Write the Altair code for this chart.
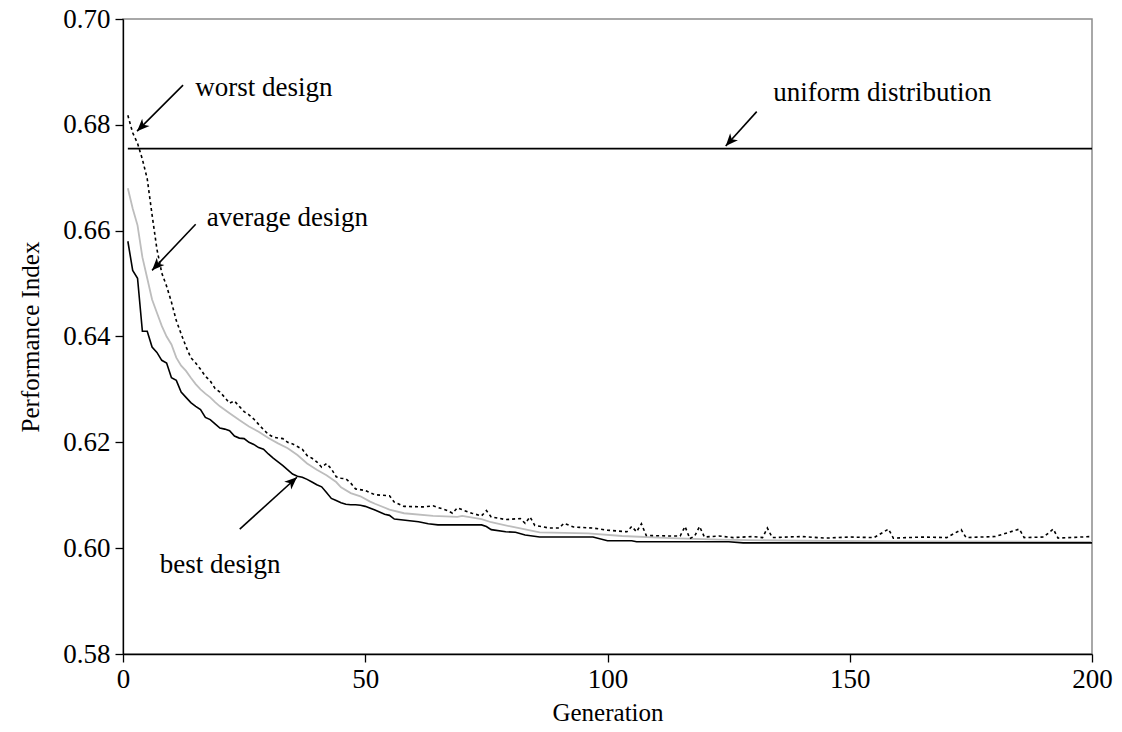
import math
import altair as alt
import pandas as pd

# --- series read per generation -------------------------------------------
best_gen = [1, 2, 3, 4, 5, 6, 7, 8, 9, 10, 11, 12, 13, 14, 15, 16, 17, 18, 19, 20,
            21, 22, 23, 24, 25, 26, 27, 28, 29, 30, 31, 32, 33, 34, 35, 36, 37, 38, 39, 40,
            41, 42, 43, 44, 45, 46, 47, 48, 49, 50, 52, 54, 55, 56, 61, 63, 65, 74, 75, 76,
            79, 81, 83, 86, 97, 100, 105, 106, 125, 128, 200]
best_val = [0.6580, 0.6525, 0.6510, 0.6410, 0.6410, 0.6380, 0.6370, 0.6355, 0.6350, 0.6322,
            0.6317, 0.6295, 0.6285, 0.6275, 0.6268, 0.6262, 0.6247, 0.6243, 0.6235, 0.6227,
            0.6225, 0.6222, 0.6212, 0.6208, 0.6207, 0.6200, 0.6196, 0.6190, 0.6187, 0.6178,
            0.6170, 0.6163, 0.6156, 0.6148, 0.6140, 0.6136, 0.6134, 0.6130, 0.6125, 0.6120,
            0.6116, 0.6105, 0.6094, 0.6090, 0.6086, 0.6083, 0.6082, 0.6082, 0.6081, 0.6079,
            0.6072, 0.6064, 0.6062, 0.6055, 0.6050, 0.6046, 0.6044, 0.6044, 0.6041, 0.6035,
            0.6031, 0.6030, 0.6025, 0.6021, 0.6021, 0.6014, 0.6014, 0.6012, 0.6012, 0.6010,
            0.6010]

avg_gen = [1, 2, 3, 4, 5, 6, 7, 8, 9, 10, 11, 12, 13, 14, 15, 16, 17, 18, 19, 20,
           22, 24, 26, 28, 30, 32, 34, 36, 38, 40, 42, 44, 45, 47, 49, 51, 52, 55, 58, 64,
           69, 70, 74, 76, 80, 86, 96, 103, 113, 123, 140, 160, 200]
avg_val = [0.6680, 0.6642, 0.6610, 0.6550, 0.6510, 0.6470, 0.6445, 0.6420, 0.6400, 0.6385,
           0.6360, 0.6345, 0.6335, 0.6322, 0.6310, 0.6300, 0.6292, 0.6285, 0.6276, 0.6268,
           0.6255, 0.6242, 0.6230, 0.6220, 0.6208, 0.6198, 0.6189, 0.6176, 0.6160, 0.6148,
           0.6138, 0.6125, 0.6115, 0.6104, 0.6098, 0.6088, 0.6084, 0.6073, 0.6066, 0.6061,
           0.6059, 0.6061, 0.6055, 0.6049, 0.6041, 0.6030, 0.6028, 0.6023, 0.6019, 0.6016,
           0.6014, 0.6013, 0.6012]

worst_gen = [1, 2, 3, 4, 5, 6, 7, 8, 9, 10, 11, 12, 13, 14, 15, 16, 17, 18, 19, 20,
             21, 22, 23, 24, 25, 26, 27, 28, 29, 30, 31, 32, 33, 34, 35, 36, 37, 38, 39, 40,
             41, 42, 43, 44, 45, 46, 47, 48, 50, 52, 55, 56, 58, 62, 64, 67, 68, 69, 72, 74,
             75, 76, 79, 82, 83, 84, 85, 88, 90, 91, 93, 97, 100, 104, 105, 106, 107, 108, 113, 115,
             116, 117, 118, 119, 120, 123, 126, 130, 132, 133, 134, 140, 145, 150, 155, 158, 159, 165, 170, 173,
             174, 180, 185, 186, 190, 192, 193, 200]
worst_val = [0.6818, 0.6785, 0.6765, 0.6735, 0.6698, 0.6630, 0.6565, 0.6520, 0.6495, 0.6465,
             0.6430, 0.6405, 0.6381, 0.6360, 0.6350, 0.6338, 0.6325, 0.6316, 0.6302, 0.6295,
             0.6285, 0.6274, 0.6278, 0.6268, 0.6258, 0.6252, 0.6244, 0.6234, 0.6224, 0.6215,
             0.6210, 0.6208, 0.6207, 0.6200, 0.6197, 0.6192, 0.6187, 0.6175, 0.6170, 0.6163,
             0.6153, 0.6160, 0.6150, 0.6135, 0.6132, 0.6131, 0.6123, 0.6112, 0.6109, 0.6101,
             0.6099, 0.6087, 0.6079, 0.6078, 0.6080, 0.6071, 0.6066, 0.6076, 0.6066, 0.6061,
             0.6071, 0.6059, 0.6054, 0.6056, 0.6047, 0.6059, 0.6043, 0.6038, 0.6038, 0.6047,
             0.6040, 0.6038, 0.6034, 0.6031, 0.6041, 0.6031, 0.6046, 0.6024, 0.6023, 0.6023,
             0.6041, 0.6018, 0.6023, 0.6041, 0.6021, 0.6023, 0.6020, 0.6022, 0.6020, 0.6038,
             0.6020, 0.6022, 0.6019, 0.6021, 0.6020, 0.6036, 0.6019, 0.6021, 0.6020, 0.6035,
             0.6020, 0.6022, 0.6036, 0.6020, 0.6021, 0.6036, 0.6019, 0.6022]

uniform_gen = [1, 200]
uniform_val = [0.6755, 0.6755]

# --- annotations (data units) ----------------------------------------------
label_text = ["worst design", "uniform distribution", "average design", "best design"]
label_gen = [14.9, 134.2, 17.3, 7.6]
label_val = [0.6870, 0.6860, 0.6624, 0.5968]

arrow_from_gen = [12.4, 130.8, 15.0, 24.1]
arrow_from_val = [0.6875, 0.6825, 0.6612, 0.6036]
arrow_to_gen = [2.9, 124.4, 6.0, 35.9]
arrow_to_val = [0.6788, 0.6760, 0.6525, 0.6134]

# --- layout ------------------------------------------------------------------
W, H = 969, 635
X_DOM = [0, 200]
Y_DOM = [0.58, 0.70]
FONT = "Liberation Serif"
FS = 27

x_enc = alt.X("gen:Q", scale=alt.Scale(domain=X_DOM, nice=False, zero=False),
              axis=alt.Axis(values=[0, 50, 100, 150, 200], title="Generation",
                            titleX=W / 2, titleY=58, titleBaseline="middle",
                            labelPadding=4, labelFlush=False))
y_enc = alt.Y("val:Q", scale=alt.Scale(domain=Y_DOM, nice=False, zero=False),
              axis=alt.Axis(values=[0.58, 0.60, 0.62, 0.64, 0.66, 0.68, 0.70],
                            format=".2f", title="Performance Index",
                            titleX=-93, titleY=H / 2, titleAngle=-90,
                            titleBaseline="middle", titleAlign="center",
                            labelPadding=5, labelFlush=False))

best_df = pd.DataFrame({"gen": best_gen, "val": best_val})
avg_df = pd.DataFrame({"gen": avg_gen, "val": avg_val})
worst_df = pd.DataFrame({"gen": worst_gen, "val": worst_val})
uni_df = pd.DataFrame({"gen": uniform_gen, "val": uniform_val})

uniform = alt.Chart(uni_df).mark_line(color="black", strokeWidth=1.6).encode(x=x_enc, y=y_enc)
avg = alt.Chart(avg_df).mark_line(color="#bdbdbd", strokeWidth=1.8).encode(x="gen:Q", y="val:Q")
best = alt.Chart(best_df).mark_line(color="black", strokeWidth=1.6).encode(x="gen:Q", y="val:Q")
worst = alt.Chart(worst_df).mark_line(color="black", strokeWidth=1.6,
                                      strokeDash=[3, 3]).encode(x="gen:Q", y="val:Q")

# arrows: shaft + notched head rotated along the shaft
px_per_gen = W / (X_DOM[1] - X_DOM[0])
px_per_val = H / (Y_DOM[1] - Y_DOM[0])
angles = []
for g0, v0, g1, v1 in zip(arrow_from_gen, arrow_from_val, arrow_to_gen, arrow_to_val):
    dx = (g1 - g0) * px_per_gen
    dy = -(v1 - v0) * px_per_val
    angles.append(math.degrees(math.atan2(dx, -dy)) % 360)

arrow_df = pd.DataFrame({"g0": arrow_from_gen, "v0": arrow_from_val,
                         "gen": arrow_to_gen, "val": arrow_to_val, "ang": angles})

shafts = alt.Chart(arrow_df).mark_rule(color="black", strokeWidth=1.6).encode(
    x="g0:Q", y="v0:Q", x2="gen:Q", y2="val:Q")
heads = alt.Chart(arrow_df).mark_point(
    shape="M0,0 L0.42,1 L0,0.72 L-0.42,1 Z", filled=True, color="black",
    opacity=1, size=620, strokeWidth=0).encode(
    x="gen:Q", y="val:Q", angle=alt.Angle("ang:Q", scale=None))

label_df = pd.DataFrame({"gen": label_gen, "val": label_val, "txt": label_text})
labels = alt.Chart(label_df).mark_text(
    align="left", baseline="middle", font=FONT, fontSize=FS, color="black").encode(
    x="gen:Q", y="val:Q", text="txt:N")

chart = alt.layer(uniform, avg, best, worst, shafts, heads, labels).properties(
    width=W, height=H,
    autosize=alt.AutoSizeParams(type="none"),
    padding={"left": 123, "top": 19, "right": 30, "bottom": 78},
    background="white",
).configure_view(
    stroke="#8c8c8c", strokeWidth=1.5
).configure_axis(
    grid=False, domainColor="black", domainWidth=1.3, tickColor="black", tickWidth=1.3,
    tickSize=8, labelFont=FONT, labelFontSize=FS, labelColor="black",
    titleFont=FONT, titleFontSize=FS - 2, titleFontWeight="normal", titleColor="black",
)

chart.save("out.html", embed_options={"renderer": "svg", "actions": False})
